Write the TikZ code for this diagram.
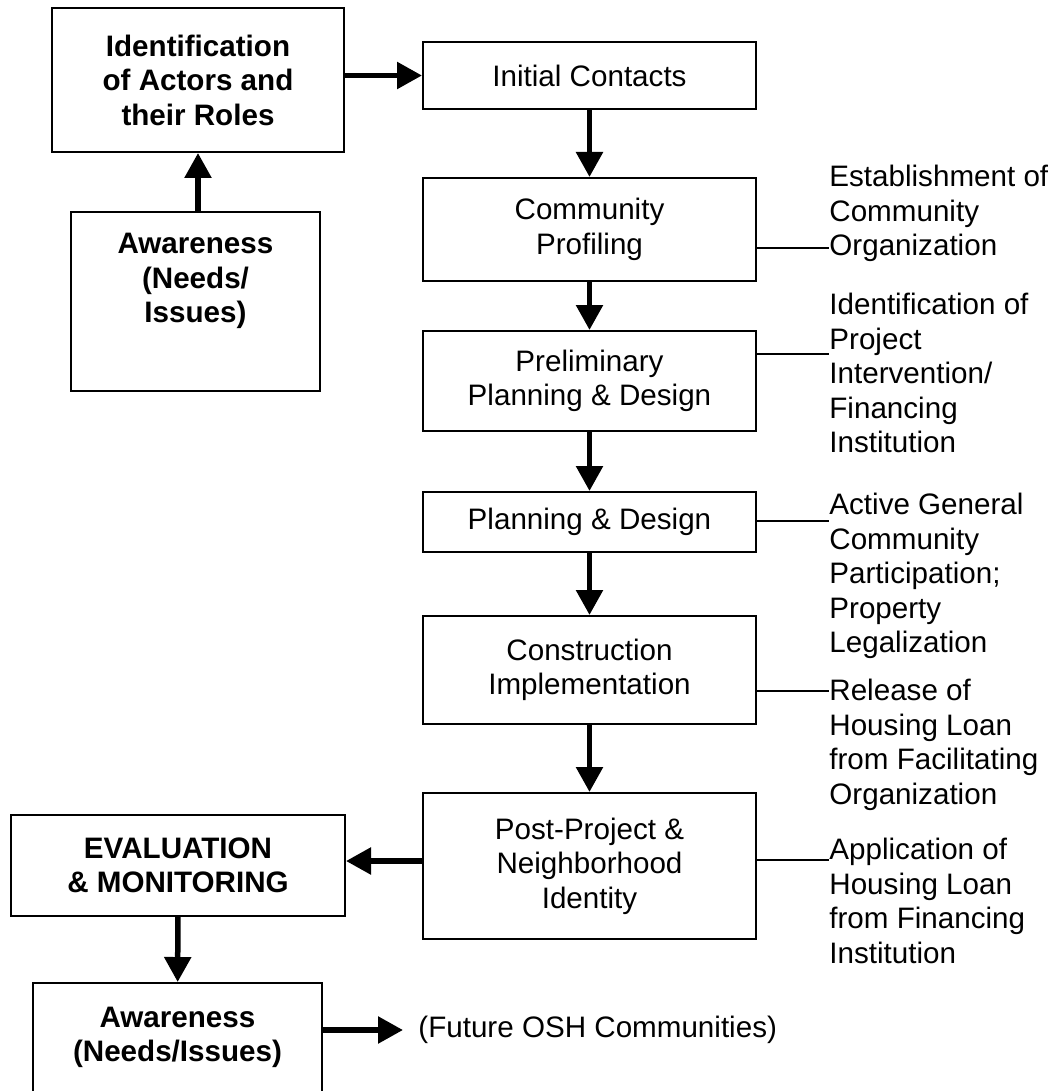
\documentclass[tikz,border=0pt]{standalone}
\usepackage{fontspec}
\setmainfont{Liberation Sans}
\usetikzlibrary{arrows.meta}
\tikzset{
  stage/.style = {draw, line width=1pt, inner sep=0pt, align=center,
                  font=\fontsize{14.8pt}{17.25pt}\selectfont},
  bstage/.style = {stage, font=\fontsize{14.8pt}{17.25pt}\selectfont\bfseries},
  btext/.style = {inner sep=0pt, align=center,
                  font=\fontsize{14.8pt}{17.25pt}\selectfont\bfseries},
  plain/.style = {inner sep=0pt, font=\fontsize{14.8pt}{17.25pt}\selectfont},
  note/.style = {plain, anchor=north west, align=left},
  flow/.style = {line width=2.75pt, -{Triangle[length=12.5pt,width=13pt]}},
  link/.style = {line width=0.8pt}
}

\begin{document}
\begin{tikzpicture}[x=0.5pt, y=-0.5pt]
	\def \W{166.5pt}
	\def \xs{589.5} % main column
	\def \xn{829}   % side notes

	\useasboundingbox (0,0) rectangle (1055,1091);

	% Left column
	\node[bstage, minimum width=146pt, minimum height=72pt] (actors) at (198,80) {Identification\\of Actors and\\their Roles};
	\node[stage, minimum width=124.5pt, minimum height=89.5pt] (needs) at (195.5,301.5) {};
	\node[btext] (needstxt) at (195.5,281) {Awareness\\(Needs/\\Issues)};

	% Main column
	\node[stage, minimum width=\W, minimum height=33.5pt] (contacts)  at (\xs,75.5)  {Initial Contacts};
	\node[stage, minimum width=\W, minimum height=51.5pt] (profiling) at (\xs,229.5) {Community\\Profiling};
	\node[stage, minimum width=\W, minimum height=50pt]   (prelim)    at (\xs,381)   {Preliminary\\Planning \& Design};
	\node[stage, minimum width=\W, minimum height=30pt]   (design)    at (\xs,522)   {Planning \& Design};
	\node[stage, minimum width=\W, minimum height=54pt]   (constr)    at (\xs,670)   {Construction\\Implementation};
	\node[stage, minimum width=\W, minimum height=73pt]   (post)      at (\xs,866)   {Post-Project \&\\Neighborhood\\Identity};

	% Bottom left
	\node[bstage, minimum width=167pt, minimum height=50.5pt] (evalmon) at (178,865.5) {EVALUATION\\\& MONITORING};
	\node[bstage, minimum width=144.5pt, minimum height=54.5pt] (future) at (177.5,1037.5) {Awareness\\(Needs/Issues)};
	\node[plain, anchor=west, inner xsep=7.5pt] (futuretxt) at (403,1030) {(Future OSH Communities)};

	% Side notes
	\node[note] (sideorg)  at (\xn,165) {Establishment of\\Community\\Organization};
	\node[note] (sidefin)  at (\xn,293) {Identification of\\Project\\Intervention/\\Financing\\Institution};
	\node[note] (sidepart) at (\xn,493) {Active General\\Community\\Participation;\\Property\\Legalization};
	\node[note] (siderel)  at (\xn,679) {Release of\\Housing Loan\\from Facilitating\\Organization};
	\node[note] (sideapp)  at (\xn,838) {Application of\\Housing Loan\\from Financing\\Institution};

	% Links to the notes
	\coordinate (l1) at (\xn,248);
	\coordinate (l2) at (\xn,354);
	\coordinate (l3) at (\xn,521);
	\coordinate (l4) at (\xn,691);
	\coordinate (l5) at (\xn,860);
	\draw[link] (profiling.east |- l1) -- (l1);
	\draw[link] (prelim.east |- l2) -- (l2);
	\draw[link] (design.east |- l3) -- (l3);
	\draw[link] (constr.east |- l4) -- (l4);
	\draw[link] (post.east |- l5) -- (l5);

	% Flow
	\draw[flow] (actors.east |- contacts.west) -- (contacts.west);
	\draw[flow] (actors.south |- needs.north) -- (actors.south);
	\draw[flow] (contacts) -- (profiling);
	\draw[flow] (profiling) -- (prelim);
	\draw[flow] (prelim) -- (design);
	\draw[flow] (design) -- (constr);
	\draw[flow] (constr) -- (post);
	\draw[flow] ([yshift=2.5pt]post.west) -- ([yshift=2.5pt]post.west -| evalmon.east);
	\draw[flow] (evalmon) -- (future);
	\draw[flow] (future.east |- futuretxt.west) -- (futuretxt.west);
\end{tikzpicture}
\end{document}
